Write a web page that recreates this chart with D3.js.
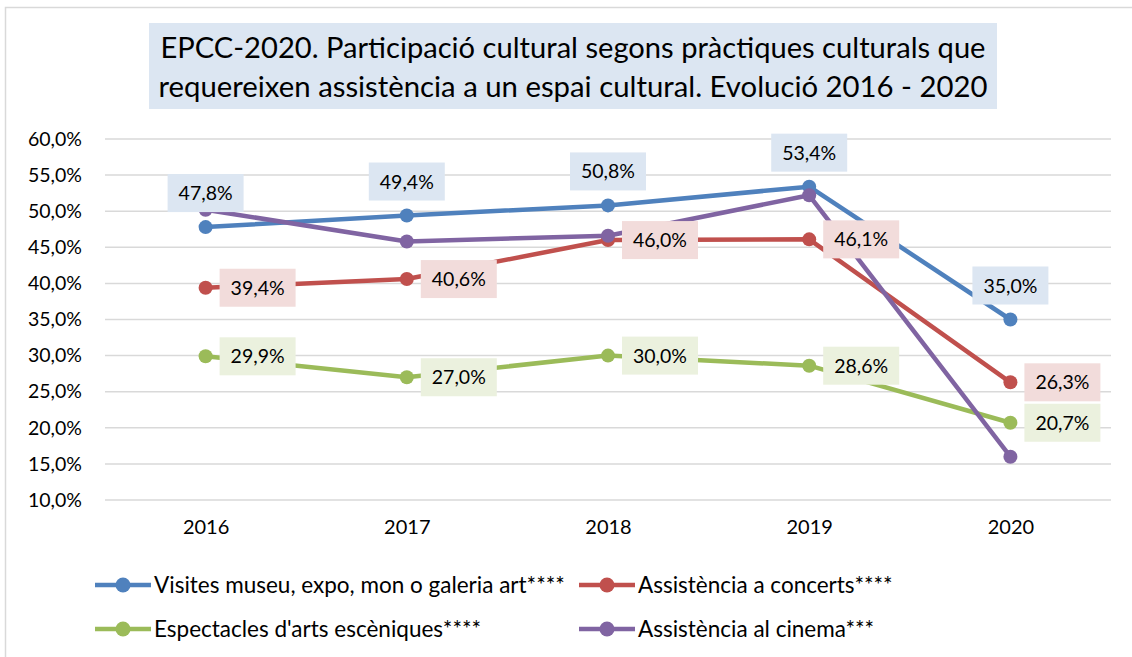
<!DOCTYPE html>
<html>
<head>
<meta charset="utf-8">
<script src="https://cdn.jsdelivr.net/npm/d3@7"></script>
<style>
  body { margin: 0; background: #fff; }
  svg { display: block; font-family: Lato, "Open Sans", sans-serif; }
</style>
</head>
<body>
<svg id="chart" width="1132" height="657"></svg>
<script>
// Data
const years = ['2016', '2017', '2018', '2019', '2020'];
const museus = [47.8, 49.4, 50.8, 53.4, 35.0];
const concerts = [39.4, 40.6, 46.0, 46.1, 26.3];
const escena = [29.9, 27.0, 30.0, 28.6, 20.7];
const cinema = [50.2, 45.8, 46.6, 52.2, 16.0];
const yTicks = [10, 15, 20, 25, 30, 35, 40, 45, 50, 55, 60];

const series = [
  { name: "Visites museu, expo, mon o galeria art****", values: museus, color: '#4F81BD', box: '#DCE6F2', labels: 'above' },
  { name: "Assistència a concerts****", values: concerts, color: '#C0504D', box: '#F2DCDB', labels: 'right' },
  { name: "Espectacles d'arts escèniques****", values: escena, color: '#9BBB59', box: '#EBF1DE', labels: 'right' },
  { name: "Assistència al cinema***", values: cinema, color: '#8064A2', box: null, labels: null }
];

const fmt = v => d3.format('.1f')(v).replace('.', ',') + '%';

const svg = d3.select('#chart');

// chart area border (runs off the right and bottom edge)
svg.append('rect')
  .attr('x', 5.5).attr('y', 7.5)
  .attr('width', 1140).attr('height', 660)
  .attr('fill', '#fff')
  .attr('stroke', '#D9D9D9')
  .attr('stroke-width', 1.5);

// Title
const titleG = svg.append('g');
titleG.append('rect')
  .attr('x', 149).attr('y', 23)
  .attr('width', 848).attr('height', 86)
  .attr('fill', '#DCE6F2');
const titleLines = ['EPCC-2020. Participació cultural segons pràctiques culturals que',
                    'requereixen assistència a un espai cultural. Evolució 2016 - 2020'];
titleG.selectAll('text')
  .data(titleLines)
  .enter()
  .append('text')
  .attr('x', 573)
  .attr('y', (d, i) => 58 + i * 39)
  .attr('text-anchor', 'middle')
  .attr('font-size', 28)
  .attr('fill', '#000')
  .attr('textLength', (d, i) => i === 0 ? 825 : 829)
  .attr('lengthAdjust', 'spacingAndGlyphs')
  .text(d => d);

// Scales
const x = d3.scalePoint().domain(years).range([105, 1111]).padding(0.5);
const y = d3.scaleLinear().domain([10, 60]).range([500, 139]);

// Grid
svg.append('g')
  .selectAll('line')
  .data(yTicks)
  .enter()
  .append('line')
  .attr('x1', 105).attr('x2', 1111)
  .attr('y1', d => y(d)).attr('y2', d => y(d))
  .attr('stroke', '#D9D9D9')
  .attr('stroke-width', 1.5);

// Y axis labels
const yAxis = svg.append('g')
  .attr('transform', 'translate(92,0)')
  .call(d3.axisLeft(y).tickValues(yTicks).tickSize(0).tickPadding(10).tickFormat(fmt));
yAxis.select('.domain').remove();
yAxis.selectAll('text')
  .attr('font-family', 'Lato, sans-serif')
  .attr('font-size', 19.5)
  .attr('fill', '#000');

// X axis labels
const xAxis = svg.append('g')
  .attr('transform', 'translate(0,512)')
  .call(d3.axisBottom(x).tickSize(0).tickPadding(8));
xAxis.select('.domain').remove();
xAxis.selectAll('text')
  .attr('font-family', 'Lato, sans-serif')
  .attr('font-size', 20)
  .attr('fill', '#000');

// Lines and points
const line = d3.line()
  .x((d, i) => x(years[i]))
  .y(d => y(d));

series.forEach(s => {
  const g = svg.append('g');
  g.append('path')
    .datum(s.values)
    .attr('d', line)
    .attr('fill', 'none')
    .attr('stroke', s.color)
    .attr('stroke-width', 4.5)
    .attr('stroke-linejoin', 'round');
  g.selectAll('circle')
    .data(s.values)
    .enter()
    .append('circle')
    .attr('cx', (d, i) => x(years[i]))
    .attr('cy', d => y(d))
    .attr('r', 7)
    .attr('fill', s.color);
});

// Data labels (drawn on top)
series.filter(s => s.labels).forEach(s => {
  const g = svg.append('g');
  s.values.forEach((v, i) => {
    const px = x(years[i]);
    const py = y(v);
    const w = 76, h = 38;
    let bx, by;
    if (s.labels === 'above') {
      bx = px - w / 2;
      by = py - 34 - h / 2;
    } else {
      bx = px + 14;
      by = py - h / 2;
    }
    g.append('rect')
      .attr('x', bx).attr('y', by)
      .attr('width', w).attr('height', h)
      .attr('fill', s.box);
    g.append('text')
      .attr('x', bx + w / 2)
      .attr('y', by + h / 2)
      .attr('dy', '0.36em')
      .attr('text-anchor', 'middle')
      .attr('font-size', 19.5)
      .attr('fill', '#000')
      .text(fmt(v));
  });
});

// Legend
const legendPos = [[95, 585], [579, 585], [95, 629], [579, 629]];
const legend = svg.append('g');
series.forEach((s, i) => {
  const [lx, ly] = legendPos[i];
  const item = legend.append('g').attr('transform', `translate(${lx},${ly})`);
  item.append('line')
    .attr('x1', 0).attr('x2', 56)
    .attr('y1', 0).attr('y2', 0)
    .attr('stroke', s.color)
    .attr('stroke-width', 4.5);
  item.append('circle')
    .attr('cx', 28).attr('cy', 0)
    .attr('r', 7.5)
    .attr('fill', s.color);
  item.append('text')
    .attr('x', 59)
    .attr('y', 0)
    .attr('dy', '0.36em')
    .attr('font-size', 22.5)
    .attr('fill', '#000')
    .text(s.name);
});
</script>
</body>
</html>
